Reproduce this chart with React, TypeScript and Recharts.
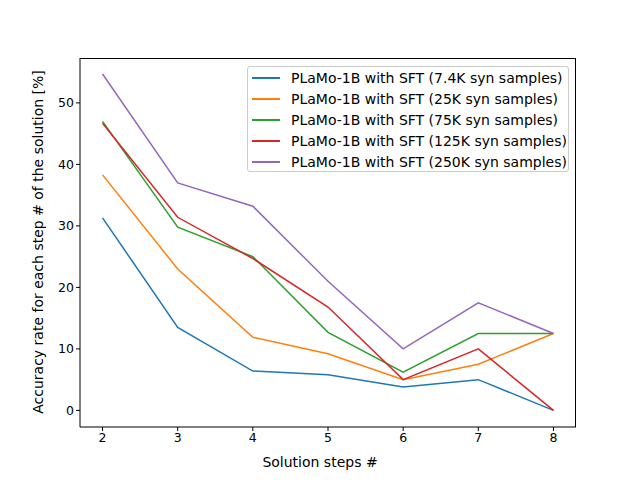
import React from "react";
import { LineChart, Line, XAxis, YAxis } from "recharts";

const steps = [2, 3, 4, 5, 6, 7, 8];
const s74 = [31.3, 13.5, 6.4, 5.8, 3.8, 5.0, 0];
const s25 = [38.3, 23.0, 11.9, 9.2, 5.0, 7.5, 12.5];
const s75 = [47.0, 29.8, 25.0, 12.7, 6.2, 12.5, 12.5];
const s125 = [46.7, 31.4, 24.7, 16.8, 5.0, 10.0, 0];
const s250 = [54.7, 37.0, 33.2, 21.0, 10.0, 17.5, 12.5];
const yTicks = [0, 10, 20, 30, 40, 50];

const series = [
  { key: "a", name: "PLaMo-1B with SFT (7.4K syn samples)", color: "#1f77b4", vals: s74 },
  { key: "b", name: "PLaMo-1B with SFT (25K syn samples)", color: "#ff7f0e", vals: s25 },
  { key: "c", name: "PLaMo-1B with SFT (75K syn samples)", color: "#2ca02c", vals: s75 },
  { key: "d", name: "PLaMo-1B with SFT (125K syn samples)", color: "#d62728", vals: s125 },
  { key: "e", name: "PLaMo-1B with SFT (250K syn samples)", color: "#9467bd", vals: s250 },
];

const data = steps.map((s, i) => {
  const row: any = { step: s };
  series.forEach((sr) => (row[sr.key] = sr.vals[i]));
  return row;
});

const font = "DejaVu Sans, sans-serif";
const tick = { fill: "#000", fontSize: 12.5, fontFamily: font };

export default function App() {
  return (
    <div style={{ position: "absolute", left: 0, top: 0, width: 640, height: 480, background: "#fff", fontFamily: font }}>
      <LineChart width={640} height={480} data={data} margin={{ top: 58, right: 64, bottom: 0, left: 0 }}>
        <XAxis dataKey="step" type="number" domain={[1.7, 8.3]} ticks={steps} height={53}
          tick={tick} tickSize={4} stroke="#000" tickLine={{ stroke: "#000" }} />
        <YAxis type="number" domain={[-2.7, 57.3]} ticks={yTicks} width={80} tick={tick} tickSize={4}
          stroke="#000" />
        {series.map((s) => (
          <Line key={s.key} dataKey={s.key} stroke={s.color} strokeWidth={1.5} dot={false} isAnimationActive={false} />
        ))}
      </LineChart>
      <div style={{ position: "absolute", left: 80, top: 58, width: 496, height: 369, borderTop: "1px solid #000", borderRight: "1px solid #000", boxSizing: "border-box", pointerEvents: "none" }} />
      <div style={{ position: "absolute", left: 0, width: 640, top: 454, textAlign: "center", fontSize: 14 }}>
        Solution steps #
      </div>
      <div style={{ position: "absolute", left: 38, top: 242, transform: "translate(-50%, -50%) rotate(-90deg)", whiteSpace: "nowrap", fontSize: 14 }}>
        Accuracy rate for each step # of the solution [%]
      </div>
      <div style={{ position: "absolute", left: 247, top: 66, width: 320, height: 104, border: "1px solid #ccc", borderRadius: 3, background: "rgba(255,255,255,0.8)" }}>
        {series.map((s) => s).map((s, i) => (
          <div key={s.key} style={{ position: "absolute", left: 4, top: 2 + i * 21, height: 17, display: "flex", alignItems: "center" }}>
            <div style={{ width: 28, height: 2, background: s.color }} />
            <span style={{ marginLeft: 11, fontSize: 14, whiteSpace: "nowrap" }}>{s.name}</span>
          </div>
        ))}
      </div>
    </div>
  );
}
